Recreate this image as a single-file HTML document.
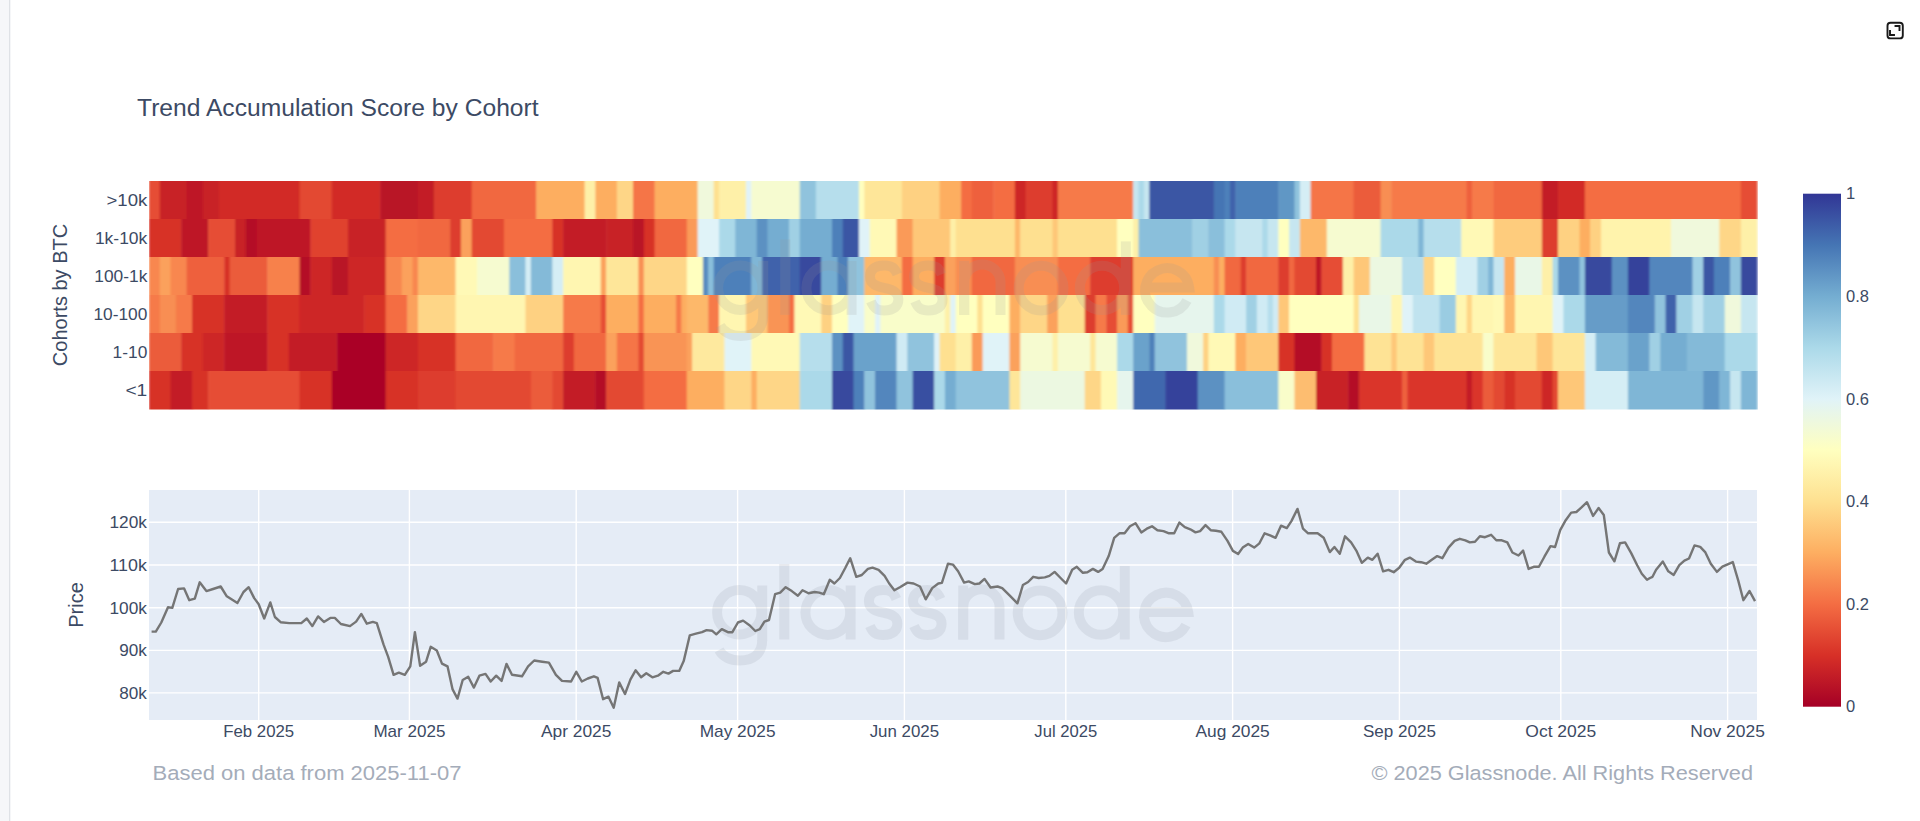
<!DOCTYPE html>
<html><head><meta charset="utf-8"><style>
html,body{margin:0;padding:0;width:1920px;height:821px;overflow:hidden;background:#fff;}
svg{position:absolute;left:0;top:0;display:block}
</style></head><body>
<svg width="1920" height="821" viewBox="0 0 1920 821" font-family="'Liberation Sans', sans-serif">
<defs>
<linearGradient id="cb" x1="0" y1="0" x2="0" y2="1">
<stop offset="0.00" stop-color="#313695"/>
<stop offset="0.10" stop-color="#4575b4"/>
<stop offset="0.20" stop-color="#74add1"/>
<stop offset="0.30" stop-color="#abd9e9"/>
<stop offset="0.40" stop-color="#e0f3f8"/>
<stop offset="0.50" stop-color="#ffffbf"/>
<stop offset="0.60" stop-color="#fee090"/>
<stop offset="0.70" stop-color="#fdae61"/>
<stop offset="0.80" stop-color="#f46d43"/>
<stop offset="0.90" stop-color="#d73027"/>
<stop offset="1.00" stop-color="#a50026"/>
</linearGradient>
<filter id="hb" x="0" y="0" width="1" height="1" filterUnits="objectBoundingBox"><feGaussianBlur stdDeviation="1.1 0.5" edgeMode="duplicate"/></filter>
</defs>
<rect x="0" y="0" width="9" height="821" fill="#f6f7f9"/>
<rect x="9" y="0" width="1.3" height="821" fill="#dfe2e6"/>
<g fill="none" stroke="#1a1a1a" stroke-width="1.9" stroke-linecap="square">
<rect x="1887.5" y="22.8" width="15.3" height="15.6" rx="3"/>
<path d="M1895.5,26 H1899.5 V30 M1890,31 V35 H1894"/>
</g>
<g filter="url(#hb)">
<rect x="149.00" y="181.0" width="11.26" height="38.5" fill="#e64e35"/>
<rect x="159.76" y="181.0" width="27.39" height="38.5" fill="#c82227"/>
<rect x="186.65" y="181.0" width="16.63" height="38.5" fill="#be1826"/>
<rect x="202.78" y="181.0" width="16.63" height="38.5" fill="#c82227"/>
<rect x="218.91" y="181.0" width="81.17" height="38.5" fill="#d22b27"/>
<rect x="299.58" y="181.0" width="32.77" height="38.5" fill="#e34832"/>
<rect x="331.85" y="181.0" width="48.90" height="38.5" fill="#d22b27"/>
<rect x="380.25" y="181.0" width="38.15" height="38.5" fill="#b91326"/>
<rect x="417.90" y="181.0" width="16.63" height="38.5" fill="#c31d27"/>
<rect x="434.03" y="181.0" width="38.15" height="38.5" fill="#dd3c2d"/>
<rect x="471.68" y="181.0" width="65.04" height="38.5" fill="#f16740"/>
<rect x="536.21" y="181.0" width="48.90" height="38.5" fill="#fdae61"/>
<rect x="584.61" y="181.0" width="11.26" height="38.5" fill="#fef0a8"/>
<rect x="595.37" y="181.0" width="22.01" height="38.5" fill="#fdae61"/>
<rect x="616.88" y="181.0" width="16.63" height="38.5" fill="#fed687"/>
<rect x="633.01" y="181.0" width="22.01" height="38.5" fill="#f57446"/>
<rect x="654.53" y="181.0" width="43.52" height="38.5" fill="#fdae61"/>
<rect x="697.55" y="181.0" width="16.63" height="38.5" fill="#f0f9dc"/>
<rect x="713.68" y="181.0" width="5.88" height="38.5" fill="#fee090"/>
<rect x="719.06" y="181.0" width="27.39" height="38.5" fill="#fef0a8"/>
<rect x="745.95" y="181.0" width="5.88" height="38.5" fill="#e0f3f8"/>
<rect x="751.33" y="181.0" width="48.90" height="38.5" fill="#f6fbd0"/>
<rect x="799.73" y="181.0" width="16.63" height="38.5" fill="#90c3dd"/>
<rect x="815.86" y="181.0" width="43.52" height="38.5" fill="#b6deec"/>
<rect x="858.89" y="181.0" width="5.88" height="38.5" fill="#ffffbf"/>
<rect x="864.26" y="181.0" width="38.15" height="38.5" fill="#fee699"/>
<rect x="901.91" y="181.0" width="38.15" height="38.5" fill="#fed182"/>
<rect x="939.56" y="181.0" width="22.01" height="38.5" fill="#fdae61"/>
<rect x="961.07" y="181.0" width="11.26" height="38.5" fill="#f46d43"/>
<rect x="971.82" y="181.0" width="22.01" height="38.5" fill="#ee613d"/>
<rect x="993.33" y="181.0" width="22.01" height="38.5" fill="#f46d43"/>
<rect x="1014.85" y="181.0" width="11.26" height="38.5" fill="#cd2627"/>
<rect x="1025.60" y="181.0" width="27.39" height="38.5" fill="#dd3c2d"/>
<rect x="1052.49" y="181.0" width="5.88" height="38.5" fill="#cd2627"/>
<rect x="1057.87" y="181.0" width="75.79" height="38.5" fill="#f67a49"/>
<rect x="1133.16" y="181.0" width="5.88" height="38.5" fill="#c6e6f0"/>
<rect x="1138.54" y="181.0" width="5.88" height="38.5" fill="#abd9e9"/>
<rect x="1143.92" y="181.0" width="5.88" height="38.5" fill="#c6e6f0"/>
<rect x="1149.29" y="181.0" width="65.04" height="38.5" fill="#3b56a4"/>
<rect x="1213.83" y="181.0" width="11.26" height="38.5" fill="#4575b4"/>
<rect x="1224.59" y="181.0" width="5.88" height="38.5" fill="#4e80ba"/>
<rect x="1229.96" y="181.0" width="5.88" height="38.5" fill="#3f62ab"/>
<rect x="1235.34" y="181.0" width="43.52" height="38.5" fill="#4e80ba"/>
<rect x="1278.36" y="181.0" width="16.63" height="38.5" fill="#6197c5"/>
<rect x="1294.50" y="181.0" width="5.88" height="38.5" fill="#90c3dd"/>
<rect x="1299.88" y="181.0" width="11.26" height="38.5" fill="#d5eef5"/>
<rect x="1310.63" y="181.0" width="43.52" height="38.5" fill="#f57446"/>
<rect x="1353.66" y="181.0" width="27.39" height="38.5" fill="#eb5b3b"/>
<rect x="1380.55" y="181.0" width="11.26" height="38.5" fill="#f88e52"/>
<rect x="1391.30" y="181.0" width="75.79" height="38.5" fill="#f67a49"/>
<rect x="1466.59" y="181.0" width="5.88" height="38.5" fill="#ee613d"/>
<rect x="1471.97" y="181.0" width="22.01" height="38.5" fill="#f67a49"/>
<rect x="1493.48" y="181.0" width="48.90" height="38.5" fill="#f16740"/>
<rect x="1541.88" y="181.0" width="16.63" height="38.5" fill="#c31d27"/>
<rect x="1558.02" y="181.0" width="27.39" height="38.5" fill="#d22b27"/>
<rect x="1584.91" y="181.0" width="156.46" height="38.5" fill="#f46d43"/>
<rect x="1740.87" y="181.0" width="16.63" height="38.5" fill="#e64e35"/>
<rect x="149.00" y="219.0" width="32.77" height="38.5" fill="#d73027"/>
<rect x="181.27" y="219.0" width="27.39" height="38.5" fill="#be1826"/>
<rect x="208.16" y="219.0" width="27.39" height="38.5" fill="#e64e35"/>
<rect x="235.05" y="219.0" width="11.26" height="38.5" fill="#c82227"/>
<rect x="245.80" y="219.0" width="11.26" height="38.5" fill="#b40e26"/>
<rect x="256.56" y="219.0" width="54.28" height="38.5" fill="#be1826"/>
<rect x="310.34" y="219.0" width="38.15" height="38.5" fill="#e0422f"/>
<rect x="347.98" y="219.0" width="38.15" height="38.5" fill="#c82227"/>
<rect x="385.63" y="219.0" width="32.77" height="38.5" fill="#f46d43"/>
<rect x="417.90" y="219.0" width="32.77" height="38.5" fill="#f16740"/>
<rect x="450.16" y="219.0" width="11.26" height="38.5" fill="#dd3c2d"/>
<rect x="460.92" y="219.0" width="11.26" height="38.5" fill="#fba15b"/>
<rect x="471.68" y="219.0" width="32.77" height="38.5" fill="#e34832"/>
<rect x="503.94" y="219.0" width="48.90" height="38.5" fill="#f46d43"/>
<rect x="552.34" y="219.0" width="11.26" height="38.5" fill="#d73027"/>
<rect x="563.10" y="219.0" width="43.52" height="38.5" fill="#c31d27"/>
<rect x="606.12" y="219.0" width="27.39" height="38.5" fill="#c82227"/>
<rect x="633.01" y="219.0" width="11.26" height="38.5" fill="#b91326"/>
<rect x="643.77" y="219.0" width="11.26" height="38.5" fill="#d73027"/>
<rect x="654.53" y="219.0" width="32.77" height="38.5" fill="#f16740"/>
<rect x="686.79" y="219.0" width="11.26" height="38.5" fill="#fa9a58"/>
<rect x="697.55" y="219.0" width="22.01" height="38.5" fill="#e0f3f8"/>
<rect x="719.06" y="219.0" width="16.63" height="38.5" fill="#abd9e9"/>
<rect x="735.19" y="219.0" width="22.01" height="38.5" fill="#7fb6d6"/>
<rect x="756.71" y="219.0" width="11.26" height="38.5" fill="#5c91c2"/>
<rect x="767.46" y="219.0" width="22.01" height="38.5" fill="#74add1"/>
<rect x="788.97" y="219.0" width="11.26" height="38.5" fill="#a0d0e4"/>
<rect x="799.73" y="219.0" width="32.77" height="38.5" fill="#74add1"/>
<rect x="832.00" y="219.0" width="11.26" height="38.5" fill="#4e80ba"/>
<rect x="842.75" y="219.0" width="16.63" height="38.5" fill="#3b56a4"/>
<rect x="858.89" y="219.0" width="11.26" height="38.5" fill="#e0f3f8"/>
<rect x="869.64" y="219.0" width="27.39" height="38.5" fill="#fff9b6"/>
<rect x="896.53" y="219.0" width="16.63" height="38.5" fill="#fa9a58"/>
<rect x="912.67" y="219.0" width="38.15" height="38.5" fill="#fec778"/>
<rect x="950.31" y="219.0" width="5.88" height="38.5" fill="#fef0a8"/>
<rect x="955.69" y="219.0" width="59.66" height="38.5" fill="#fee090"/>
<rect x="1014.85" y="219.0" width="5.88" height="38.5" fill="#fdb86a"/>
<rect x="1020.22" y="219.0" width="32.77" height="38.5" fill="#fee090"/>
<rect x="1052.49" y="219.0" width="5.88" height="38.5" fill="#fec778"/>
<rect x="1057.87" y="219.0" width="59.66" height="38.5" fill="#fee090"/>
<rect x="1117.03" y="219.0" width="16.63" height="38.5" fill="#ffffbf"/>
<rect x="1133.16" y="219.0" width="5.88" height="38.5" fill="#fef0a8"/>
<rect x="1138.54" y="219.0" width="54.28" height="38.5" fill="#8abfdb"/>
<rect x="1192.32" y="219.0" width="16.63" height="38.5" fill="#a0d0e4"/>
<rect x="1208.45" y="219.0" width="16.63" height="38.5" fill="#8abfdb"/>
<rect x="1224.59" y="219.0" width="11.26" height="38.5" fill="#abd9e9"/>
<rect x="1235.34" y="219.0" width="27.39" height="38.5" fill="#c6e6f0"/>
<rect x="1262.23" y="219.0" width="5.88" height="38.5" fill="#abd9e9"/>
<rect x="1267.61" y="219.0" width="11.26" height="38.5" fill="#c6e6f0"/>
<rect x="1278.36" y="219.0" width="11.26" height="38.5" fill="#ffffbf"/>
<rect x="1289.12" y="219.0" width="11.26" height="38.5" fill="#c6e6f0"/>
<rect x="1299.88" y="219.0" width="27.39" height="38.5" fill="#fdb86a"/>
<rect x="1326.77" y="219.0" width="54.28" height="38.5" fill="#f6fbd0"/>
<rect x="1380.55" y="219.0" width="38.15" height="38.5" fill="#abd9e9"/>
<rect x="1418.19" y="219.0" width="5.88" height="38.5" fill="#7fb6d6"/>
<rect x="1423.57" y="219.0" width="38.15" height="38.5" fill="#b6deec"/>
<rect x="1461.21" y="219.0" width="32.77" height="38.5" fill="#fff9b6"/>
<rect x="1493.48" y="219.0" width="48.90" height="38.5" fill="#fecc7d"/>
<rect x="1541.88" y="219.0" width="16.63" height="38.5" fill="#dd3c2d"/>
<rect x="1558.02" y="219.0" width="22.01" height="38.5" fill="#fed182"/>
<rect x="1579.53" y="219.0" width="11.26" height="38.5" fill="#fdae61"/>
<rect x="1590.28" y="219.0" width="11.26" height="38.5" fill="#fed182"/>
<rect x="1601.04" y="219.0" width="70.41" height="38.5" fill="#fff3ac"/>
<rect x="1670.95" y="219.0" width="48.90" height="38.5" fill="#f0f9dc"/>
<rect x="1719.35" y="219.0" width="22.01" height="38.5" fill="#fed687"/>
<rect x="1740.87" y="219.0" width="16.63" height="38.5" fill="#fef0a8"/>
<rect x="149.00" y="257.0" width="11.26" height="38.5" fill="#f8874f"/>
<rect x="159.76" y="257.0" width="11.26" height="38.5" fill="#fba15b"/>
<rect x="170.51" y="257.0" width="16.63" height="38.5" fill="#f8874f"/>
<rect x="186.65" y="257.0" width="38.15" height="38.5" fill="#ee613d"/>
<rect x="224.29" y="257.0" width="5.88" height="38.5" fill="#d73027"/>
<rect x="229.67" y="257.0" width="38.15" height="38.5" fill="#eb5b3b"/>
<rect x="267.31" y="257.0" width="32.77" height="38.5" fill="#f7814c"/>
<rect x="299.58" y="257.0" width="11.26" height="38.5" fill="#b40e26"/>
<rect x="310.34" y="257.0" width="22.01" height="38.5" fill="#cd2627"/>
<rect x="331.85" y="257.0" width="16.63" height="38.5" fill="#b91326"/>
<rect x="347.98" y="257.0" width="38.15" height="38.5" fill="#cd2627"/>
<rect x="385.63" y="257.0" width="16.63" height="38.5" fill="#f8874f"/>
<rect x="401.76" y="257.0" width="11.26" height="38.5" fill="#fba15b"/>
<rect x="412.52" y="257.0" width="5.88" height="38.5" fill="#f8874f"/>
<rect x="417.90" y="257.0" width="38.15" height="38.5" fill="#fdb86a"/>
<rect x="455.54" y="257.0" width="22.01" height="38.5" fill="#fff9b6"/>
<rect x="477.05" y="257.0" width="32.77" height="38.5" fill="#f6fbd0"/>
<rect x="509.32" y="257.0" width="16.63" height="38.5" fill="#8abfdb"/>
<rect x="525.45" y="257.0" width="5.88" height="38.5" fill="#d5eef5"/>
<rect x="530.83" y="257.0" width="22.01" height="38.5" fill="#84bad8"/>
<rect x="552.34" y="257.0" width="11.26" height="38.5" fill="#d5eef5"/>
<rect x="563.10" y="257.0" width="38.15" height="38.5" fill="#fff6b1"/>
<rect x="600.75" y="257.0" width="5.88" height="38.5" fill="#fba15b"/>
<rect x="606.12" y="257.0" width="32.77" height="38.5" fill="#fee699"/>
<rect x="638.39" y="257.0" width="5.88" height="38.5" fill="#f88e52"/>
<rect x="643.77" y="257.0" width="43.52" height="38.5" fill="#fed687"/>
<rect x="686.79" y="257.0" width="16.63" height="38.5" fill="#ffffbf"/>
<rect x="702.93" y="257.0" width="5.88" height="38.5" fill="#588bc0"/>
<rect x="708.30" y="257.0" width="5.88" height="38.5" fill="#8abfdb"/>
<rect x="713.68" y="257.0" width="38.15" height="38.5" fill="#4e80ba"/>
<rect x="751.33" y="257.0" width="11.26" height="38.5" fill="#7fb6d6"/>
<rect x="762.08" y="257.0" width="38.15" height="38.5" fill="#3f62ab"/>
<rect x="799.73" y="257.0" width="22.01" height="38.5" fill="#37499e"/>
<rect x="821.24" y="257.0" width="16.63" height="38.5" fill="#74add1"/>
<rect x="837.37" y="257.0" width="11.26" height="38.5" fill="#4e80ba"/>
<rect x="848.13" y="257.0" width="16.63" height="38.5" fill="#90c3dd"/>
<rect x="864.26" y="257.0" width="38.15" height="38.5" fill="#fdb86a"/>
<rect x="901.91" y="257.0" width="11.26" height="38.5" fill="#f46d43"/>
<rect x="912.67" y="257.0" width="22.01" height="38.5" fill="#fdae61"/>
<rect x="934.18" y="257.0" width="11.26" height="38.5" fill="#dd3c2d"/>
<rect x="944.93" y="257.0" width="11.26" height="38.5" fill="#fba15b"/>
<rect x="955.69" y="257.0" width="16.63" height="38.5" fill="#f88e52"/>
<rect x="971.82" y="257.0" width="43.52" height="38.5" fill="#f16740"/>
<rect x="1014.85" y="257.0" width="43.52" height="38.5" fill="#f88e52"/>
<rect x="1057.87" y="257.0" width="32.77" height="38.5" fill="#f46d43"/>
<rect x="1090.14" y="257.0" width="43.52" height="38.5" fill="#dd3c2d"/>
<rect x="1133.16" y="257.0" width="81.17" height="38.5" fill="#fdae61"/>
<rect x="1213.83" y="257.0" width="5.88" height="38.5" fill="#f88e52"/>
<rect x="1219.21" y="257.0" width="5.88" height="38.5" fill="#fdae61"/>
<rect x="1224.59" y="257.0" width="16.63" height="38.5" fill="#f16740"/>
<rect x="1240.72" y="257.0" width="5.88" height="38.5" fill="#dd3c2d"/>
<rect x="1246.10" y="257.0" width="32.77" height="38.5" fill="#f16740"/>
<rect x="1278.36" y="257.0" width="11.26" height="38.5" fill="#dd3c2d"/>
<rect x="1289.12" y="257.0" width="5.88" height="38.5" fill="#f16740"/>
<rect x="1294.50" y="257.0" width="22.01" height="38.5" fill="#e34832"/>
<rect x="1316.01" y="257.0" width="5.88" height="38.5" fill="#be1826"/>
<rect x="1321.39" y="257.0" width="22.01" height="38.5" fill="#e64e35"/>
<rect x="1342.90" y="257.0" width="11.26" height="38.5" fill="#fef0a8"/>
<rect x="1353.66" y="257.0" width="16.63" height="38.5" fill="#fec778"/>
<rect x="1369.79" y="257.0" width="32.77" height="38.5" fill="#ecf8e1"/>
<rect x="1402.06" y="257.0" width="22.01" height="38.5" fill="#b6deec"/>
<rect x="1423.57" y="257.0" width="11.26" height="38.5" fill="#fed687"/>
<rect x="1434.32" y="257.0" width="22.01" height="38.5" fill="#ffffbf"/>
<rect x="1455.84" y="257.0" width="22.01" height="38.5" fill="#d5eef5"/>
<rect x="1477.35" y="257.0" width="11.26" height="38.5" fill="#a0d0e4"/>
<rect x="1488.10" y="257.0" width="5.88" height="38.5" fill="#7fb6d6"/>
<rect x="1493.48" y="257.0" width="11.26" height="38.5" fill="#c6e6f0"/>
<rect x="1504.24" y="257.0" width="11.26" height="38.5" fill="#fdae61"/>
<rect x="1514.99" y="257.0" width="27.39" height="38.5" fill="#e9f7e7"/>
<rect x="1541.88" y="257.0" width="11.26" height="38.5" fill="#fef0a8"/>
<rect x="1552.64" y="257.0" width="5.88" height="38.5" fill="#abd9e9"/>
<rect x="1558.02" y="257.0" width="22.01" height="38.5" fill="#5c91c2"/>
<rect x="1579.53" y="257.0" width="5.88" height="38.5" fill="#90c3dd"/>
<rect x="1584.91" y="257.0" width="27.39" height="38.5" fill="#37499e"/>
<rect x="1611.80" y="257.0" width="16.63" height="38.5" fill="#5c91c2"/>
<rect x="1627.93" y="257.0" width="22.01" height="38.5" fill="#35439b"/>
<rect x="1649.44" y="257.0" width="43.52" height="38.5" fill="#5386bd"/>
<rect x="1692.46" y="257.0" width="11.26" height="38.5" fill="#a0d0e4"/>
<rect x="1703.22" y="257.0" width="11.26" height="38.5" fill="#3b56a4"/>
<rect x="1713.98" y="257.0" width="16.63" height="38.5" fill="#4e80ba"/>
<rect x="1730.11" y="257.0" width="11.26" height="38.5" fill="#90c3dd"/>
<rect x="1740.87" y="257.0" width="16.63" height="38.5" fill="#37499e"/>
<rect x="149.00" y="295.0" width="11.26" height="38.5" fill="#f67a49"/>
<rect x="159.76" y="295.0" width="16.63" height="38.5" fill="#f88e52"/>
<rect x="175.89" y="295.0" width="16.63" height="38.5" fill="#f67a49"/>
<rect x="192.02" y="295.0" width="32.77" height="38.5" fill="#d73027"/>
<rect x="224.29" y="295.0" width="43.52" height="38.5" fill="#c31d27"/>
<rect x="267.31" y="295.0" width="32.77" height="38.5" fill="#d73027"/>
<rect x="299.58" y="295.0" width="65.04" height="38.5" fill="#cd2627"/>
<rect x="364.12" y="295.0" width="22.01" height="38.5" fill="#d73027"/>
<rect x="385.63" y="295.0" width="22.01" height="38.5" fill="#f46d43"/>
<rect x="407.14" y="295.0" width="11.26" height="38.5" fill="#fba15b"/>
<rect x="417.90" y="295.0" width="38.15" height="38.5" fill="#fed687"/>
<rect x="455.54" y="295.0" width="70.41" height="38.5" fill="#fff6b1"/>
<rect x="525.45" y="295.0" width="38.15" height="38.5" fill="#fed182"/>
<rect x="563.10" y="295.0" width="38.15" height="38.5" fill="#f67a49"/>
<rect x="600.75" y="295.0" width="5.88" height="38.5" fill="#e64e35"/>
<rect x="606.12" y="295.0" width="32.77" height="38.5" fill="#fdae61"/>
<rect x="638.39" y="295.0" width="5.88" height="38.5" fill="#f46d43"/>
<rect x="643.77" y="295.0" width="32.77" height="38.5" fill="#fdae61"/>
<rect x="676.04" y="295.0" width="5.88" height="38.5" fill="#f67a49"/>
<rect x="681.41" y="295.0" width="5.88" height="38.5" fill="#fdae61"/>
<rect x="686.79" y="295.0" width="22.01" height="38.5" fill="#fdb86a"/>
<rect x="708.30" y="295.0" width="11.26" height="38.5" fill="#f67a49"/>
<rect x="719.06" y="295.0" width="27.39" height="38.5" fill="#fff6b1"/>
<rect x="745.95" y="295.0" width="22.01" height="38.5" fill="#fec778"/>
<rect x="767.46" y="295.0" width="22.01" height="38.5" fill="#f99455"/>
<rect x="788.97" y="295.0" width="5.88" height="38.5" fill="#f46d43"/>
<rect x="794.35" y="295.0" width="27.39" height="38.5" fill="#fff9b6"/>
<rect x="821.24" y="295.0" width="11.26" height="38.5" fill="#fed182"/>
<rect x="832.00" y="295.0" width="16.63" height="38.5" fill="#ffffbf"/>
<rect x="848.13" y="295.0" width="16.63" height="38.5" fill="#e0f3f8"/>
<rect x="864.26" y="295.0" width="11.26" height="38.5" fill="#f9fdca"/>
<rect x="875.02" y="295.0" width="5.88" height="38.5" fill="#e0f3f8"/>
<rect x="880.40" y="295.0" width="65.04" height="38.5" fill="#f9fdca"/>
<rect x="944.93" y="295.0" width="5.88" height="38.5" fill="#fef0a8"/>
<rect x="950.31" y="295.0" width="5.88" height="38.5" fill="#e0f3f8"/>
<rect x="955.69" y="295.0" width="22.01" height="38.5" fill="#ffffbf"/>
<rect x="977.20" y="295.0" width="5.88" height="38.5" fill="#fee090"/>
<rect x="982.58" y="295.0" width="27.39" height="38.5" fill="#ffffbf"/>
<rect x="1009.47" y="295.0" width="11.26" height="38.5" fill="#fdae61"/>
<rect x="1020.22" y="295.0" width="27.39" height="38.5" fill="#fed687"/>
<rect x="1047.11" y="295.0" width="11.26" height="38.5" fill="#fba15b"/>
<rect x="1057.87" y="295.0" width="27.39" height="38.5" fill="#fee090"/>
<rect x="1084.76" y="295.0" width="11.26" height="38.5" fill="#dd3c2d"/>
<rect x="1095.52" y="295.0" width="11.26" height="38.5" fill="#f67a49"/>
<rect x="1106.27" y="295.0" width="11.26" height="38.5" fill="#e64e35"/>
<rect x="1117.03" y="295.0" width="11.26" height="38.5" fill="#fa9a58"/>
<rect x="1127.78" y="295.0" width="5.88" height="38.5" fill="#e64e35"/>
<rect x="1133.16" y="295.0" width="22.01" height="38.5" fill="#ffffbf"/>
<rect x="1154.67" y="295.0" width="59.66" height="38.5" fill="#e6f5ed"/>
<rect x="1213.83" y="295.0" width="11.26" height="38.5" fill="#abd9e9"/>
<rect x="1224.59" y="295.0" width="22.01" height="38.5" fill="#d0ebf4"/>
<rect x="1246.10" y="295.0" width="11.26" height="38.5" fill="#a0d0e4"/>
<rect x="1256.85" y="295.0" width="11.26" height="38.5" fill="#d0ebf4"/>
<rect x="1267.61" y="295.0" width="5.88" height="38.5" fill="#b6deec"/>
<rect x="1272.99" y="295.0" width="5.88" height="38.5" fill="#d0ebf4"/>
<rect x="1278.36" y="295.0" width="11.26" height="38.5" fill="#fec778"/>
<rect x="1289.12" y="295.0" width="65.04" height="38.5" fill="#ffffbf"/>
<rect x="1353.66" y="295.0" width="5.88" height="38.5" fill="#fee090"/>
<rect x="1359.03" y="295.0" width="32.77" height="38.5" fill="#e9f7e7"/>
<rect x="1391.30" y="295.0" width="11.26" height="38.5" fill="#fff6b1"/>
<rect x="1402.06" y="295.0" width="11.26" height="38.5" fill="#e0f3f8"/>
<rect x="1412.81" y="295.0" width="27.39" height="38.5" fill="#c0e3ef"/>
<rect x="1439.70" y="295.0" width="16.63" height="38.5" fill="#9acce2"/>
<rect x="1455.84" y="295.0" width="11.26" height="38.5" fill="#fff6b1"/>
<rect x="1466.59" y="295.0" width="5.88" height="38.5" fill="#fed687"/>
<rect x="1471.97" y="295.0" width="22.01" height="38.5" fill="#fff6b1"/>
<rect x="1493.48" y="295.0" width="11.26" height="38.5" fill="#fff9b6"/>
<rect x="1504.24" y="295.0" width="11.26" height="38.5" fill="#fdb86a"/>
<rect x="1514.99" y="295.0" width="38.15" height="38.5" fill="#fff6b1"/>
<rect x="1552.64" y="295.0" width="11.26" height="38.5" fill="#e0f3f8"/>
<rect x="1563.39" y="295.0" width="22.01" height="38.5" fill="#abd9e9"/>
<rect x="1584.91" y="295.0" width="43.52" height="38.5" fill="#669cc8"/>
<rect x="1627.93" y="295.0" width="27.39" height="38.5" fill="#5386bd"/>
<rect x="1654.82" y="295.0" width="11.26" height="38.5" fill="#90c3dd"/>
<rect x="1665.58" y="295.0" width="11.26" height="38.5" fill="#3f62ab"/>
<rect x="1676.33" y="295.0" width="16.63" height="38.5" fill="#a0d0e4"/>
<rect x="1692.46" y="295.0" width="11.26" height="38.5" fill="#c6e6f0"/>
<rect x="1703.22" y="295.0" width="22.01" height="38.5" fill="#a0d0e4"/>
<rect x="1724.73" y="295.0" width="16.63" height="38.5" fill="#f0f9dc"/>
<rect x="1740.87" y="295.0" width="16.63" height="38.5" fill="#c6e6f0"/>
<rect x="149.00" y="333.0" width="32.77" height="38.5" fill="#eb5b3b"/>
<rect x="181.27" y="333.0" width="22.01" height="38.5" fill="#d73027"/>
<rect x="202.78" y="333.0" width="22.01" height="38.5" fill="#cd2627"/>
<rect x="224.29" y="333.0" width="43.52" height="38.5" fill="#be1826"/>
<rect x="267.31" y="333.0" width="22.01" height="38.5" fill="#d73027"/>
<rect x="288.83" y="333.0" width="48.90" height="38.5" fill="#c31d27"/>
<rect x="337.23" y="333.0" width="48.90" height="38.5" fill="#aa0526"/>
<rect x="385.63" y="333.0" width="32.77" height="38.5" fill="#cd2627"/>
<rect x="417.90" y="333.0" width="38.15" height="38.5" fill="#d73027"/>
<rect x="455.54" y="333.0" width="38.15" height="38.5" fill="#f16740"/>
<rect x="493.19" y="333.0" width="22.01" height="38.5" fill="#f67a49"/>
<rect x="514.70" y="333.0" width="48.90" height="38.5" fill="#f16740"/>
<rect x="563.10" y="333.0" width="11.26" height="38.5" fill="#dd3c2d"/>
<rect x="573.86" y="333.0" width="32.77" height="38.5" fill="#f16740"/>
<rect x="606.12" y="333.0" width="11.26" height="38.5" fill="#fba15b"/>
<rect x="616.88" y="333.0" width="22.01" height="38.5" fill="#f57446"/>
<rect x="638.39" y="333.0" width="5.88" height="38.5" fill="#e34832"/>
<rect x="643.77" y="333.0" width="43.52" height="38.5" fill="#f99455"/>
<rect x="686.79" y="333.0" width="5.88" height="38.5" fill="#fba15b"/>
<rect x="692.17" y="333.0" width="32.77" height="38.5" fill="#fee99e"/>
<rect x="724.44" y="333.0" width="27.39" height="38.5" fill="#e0f3f8"/>
<rect x="751.33" y="333.0" width="48.90" height="38.5" fill="#fff9b6"/>
<rect x="799.73" y="333.0" width="32.77" height="38.5" fill="#b6deec"/>
<rect x="832.00" y="333.0" width="11.26" height="38.5" fill="#5c91c2"/>
<rect x="842.75" y="333.0" width="11.26" height="38.5" fill="#3b56a4"/>
<rect x="853.51" y="333.0" width="43.52" height="38.5" fill="#6ba2cb"/>
<rect x="896.53" y="333.0" width="11.26" height="38.5" fill="#d0ebf4"/>
<rect x="907.29" y="333.0" width="27.39" height="38.5" fill="#90c3dd"/>
<rect x="934.18" y="333.0" width="5.88" height="38.5" fill="#e0f3f8"/>
<rect x="939.56" y="333.0" width="16.63" height="38.5" fill="#fee090"/>
<rect x="955.69" y="333.0" width="16.63" height="38.5" fill="#fef0a8"/>
<rect x="971.82" y="333.0" width="11.26" height="38.5" fill="#fa9a58"/>
<rect x="982.58" y="333.0" width="27.39" height="38.5" fill="#e0f3f8"/>
<rect x="1009.47" y="333.0" width="11.26" height="38.5" fill="#fba15b"/>
<rect x="1020.22" y="333.0" width="32.77" height="38.5" fill="#f6fbd0"/>
<rect x="1052.49" y="333.0" width="5.88" height="38.5" fill="#fef0a8"/>
<rect x="1057.87" y="333.0" width="32.77" height="38.5" fill="#f6fbd0"/>
<rect x="1090.14" y="333.0" width="5.88" height="38.5" fill="#fee699"/>
<rect x="1095.52" y="333.0" width="22.01" height="38.5" fill="#f6fbd0"/>
<rect x="1117.03" y="333.0" width="16.63" height="38.5" fill="#abd9e9"/>
<rect x="1133.16" y="333.0" width="16.63" height="38.5" fill="#6ba2cb"/>
<rect x="1149.29" y="333.0" width="5.88" height="38.5" fill="#4e80ba"/>
<rect x="1154.67" y="333.0" width="32.77" height="38.5" fill="#90c3dd"/>
<rect x="1186.94" y="333.0" width="16.63" height="38.5" fill="#f0f9dc"/>
<rect x="1203.07" y="333.0" width="5.88" height="38.5" fill="#fed182"/>
<rect x="1208.45" y="333.0" width="27.39" height="38.5" fill="#fff9b6"/>
<rect x="1235.34" y="333.0" width="11.26" height="38.5" fill="#fdae61"/>
<rect x="1246.10" y="333.0" width="32.77" height="38.5" fill="#fec778"/>
<rect x="1278.36" y="333.0" width="16.63" height="38.5" fill="#d73027"/>
<rect x="1294.50" y="333.0" width="27.39" height="38.5" fill="#b40e26"/>
<rect x="1321.39" y="333.0" width="11.26" height="38.5" fill="#d73027"/>
<rect x="1332.14" y="333.0" width="32.77" height="38.5" fill="#f46d43"/>
<rect x="1364.41" y="333.0" width="27.39" height="38.5" fill="#fee395"/>
<rect x="1391.30" y="333.0" width="5.88" height="38.5" fill="#fec778"/>
<rect x="1396.68" y="333.0" width="27.39" height="38.5" fill="#fee395"/>
<rect x="1423.57" y="333.0" width="11.26" height="38.5" fill="#fec778"/>
<rect x="1434.32" y="333.0" width="48.90" height="38.5" fill="#fee395"/>
<rect x="1482.73" y="333.0" width="11.26" height="38.5" fill="#f9fdca"/>
<rect x="1493.48" y="333.0" width="43.52" height="38.5" fill="#fee699"/>
<rect x="1536.51" y="333.0" width="16.63" height="38.5" fill="#fec778"/>
<rect x="1552.64" y="333.0" width="32.77" height="38.5" fill="#fee699"/>
<rect x="1584.91" y="333.0" width="11.26" height="38.5" fill="#d5eef5"/>
<rect x="1595.66" y="333.0" width="32.77" height="38.5" fill="#84bad8"/>
<rect x="1627.93" y="333.0" width="22.01" height="38.5" fill="#6ba2cb"/>
<rect x="1649.44" y="333.0" width="11.26" height="38.5" fill="#a0d0e4"/>
<rect x="1660.20" y="333.0" width="27.39" height="38.5" fill="#74add1"/>
<rect x="1687.09" y="333.0" width="38.15" height="38.5" fill="#84bad8"/>
<rect x="1724.73" y="333.0" width="32.77" height="38.5" fill="#abd9e9"/>
<rect x="149.00" y="371.0" width="22.01" height="38.5" fill="#d73027"/>
<rect x="170.51" y="371.0" width="22.01" height="38.5" fill="#c31d27"/>
<rect x="192.02" y="371.0" width="16.63" height="38.5" fill="#d73027"/>
<rect x="208.16" y="371.0" width="91.92" height="38.5" fill="#e64e35"/>
<rect x="299.58" y="371.0" width="32.77" height="38.5" fill="#d73027"/>
<rect x="331.85" y="371.0" width="54.28" height="38.5" fill="#aa0526"/>
<rect x="385.63" y="371.0" width="32.77" height="38.5" fill="#d73027"/>
<rect x="417.90" y="371.0" width="38.15" height="38.5" fill="#dd3c2d"/>
<rect x="455.54" y="371.0" width="75.79" height="38.5" fill="#e34832"/>
<rect x="530.83" y="371.0" width="22.01" height="38.5" fill="#eb5b3b"/>
<rect x="552.34" y="371.0" width="11.26" height="38.5" fill="#e34832"/>
<rect x="563.10" y="371.0" width="32.77" height="38.5" fill="#c31d27"/>
<rect x="595.37" y="371.0" width="11.26" height="38.5" fill="#b40e26"/>
<rect x="606.12" y="371.0" width="38.15" height="38.5" fill="#e34832"/>
<rect x="643.77" y="371.0" width="43.52" height="38.5" fill="#f46d43"/>
<rect x="686.79" y="371.0" width="38.15" height="38.5" fill="#fdae61"/>
<rect x="724.44" y="371.0" width="27.39" height="38.5" fill="#fed687"/>
<rect x="751.33" y="371.0" width="5.88" height="38.5" fill="#fdae61"/>
<rect x="756.71" y="371.0" width="43.52" height="38.5" fill="#fed687"/>
<rect x="799.73" y="371.0" width="32.77" height="38.5" fill="#abd9e9"/>
<rect x="832.00" y="371.0" width="22.01" height="38.5" fill="#37499e"/>
<rect x="853.51" y="371.0" width="11.26" height="38.5" fill="#4e80ba"/>
<rect x="864.26" y="371.0" width="11.26" height="38.5" fill="#90c3dd"/>
<rect x="875.02" y="371.0" width="22.01" height="38.5" fill="#5386bd"/>
<rect x="896.53" y="371.0" width="16.63" height="38.5" fill="#90c3dd"/>
<rect x="912.67" y="371.0" width="22.01" height="38.5" fill="#394fa1"/>
<rect x="934.18" y="371.0" width="11.26" height="38.5" fill="#abd9e9"/>
<rect x="944.93" y="371.0" width="11.26" height="38.5" fill="#74add1"/>
<rect x="955.69" y="371.0" width="54.28" height="38.5" fill="#90c3dd"/>
<rect x="1009.47" y="371.0" width="11.26" height="38.5" fill="#fee699"/>
<rect x="1020.22" y="371.0" width="65.04" height="38.5" fill="#ecf8e1"/>
<rect x="1084.76" y="371.0" width="16.63" height="38.5" fill="#fed687"/>
<rect x="1100.89" y="371.0" width="16.63" height="38.5" fill="#fff9b6"/>
<rect x="1117.03" y="371.0" width="16.63" height="38.5" fill="#e6f5ed"/>
<rect x="1133.16" y="371.0" width="32.77" height="38.5" fill="#4168ae"/>
<rect x="1165.43" y="371.0" width="32.77" height="38.5" fill="#35439b"/>
<rect x="1197.70" y="371.0" width="27.39" height="38.5" fill="#5c91c2"/>
<rect x="1224.59" y="371.0" width="54.28" height="38.5" fill="#8abfdb"/>
<rect x="1278.36" y="371.0" width="16.63" height="38.5" fill="#f9fdca"/>
<rect x="1294.50" y="371.0" width="22.01" height="38.5" fill="#fdbd6f"/>
<rect x="1316.01" y="371.0" width="32.77" height="38.5" fill="#c82227"/>
<rect x="1348.28" y="371.0" width="11.26" height="38.5" fill="#b40e26"/>
<rect x="1359.03" y="371.0" width="43.52" height="38.5" fill="#da362a"/>
<rect x="1402.06" y="371.0" width="5.88" height="38.5" fill="#ee613d"/>
<rect x="1407.43" y="371.0" width="59.66" height="38.5" fill="#da362a"/>
<rect x="1466.59" y="371.0" width="5.88" height="38.5" fill="#c31d27"/>
<rect x="1471.97" y="371.0" width="11.26" height="38.5" fill="#da362a"/>
<rect x="1482.73" y="371.0" width="11.26" height="38.5" fill="#eb5b3b"/>
<rect x="1493.48" y="371.0" width="11.26" height="38.5" fill="#e34832"/>
<rect x="1504.24" y="371.0" width="11.26" height="38.5" fill="#d73027"/>
<rect x="1514.99" y="371.0" width="27.39" height="38.5" fill="#e34832"/>
<rect x="1541.88" y="371.0" width="11.26" height="38.5" fill="#cd2627"/>
<rect x="1552.64" y="371.0" width="5.88" height="38.5" fill="#e34832"/>
<rect x="1558.02" y="371.0" width="27.39" height="38.5" fill="#fec778"/>
<rect x="1584.91" y="371.0" width="43.52" height="38.5" fill="#d5eef5"/>
<rect x="1627.93" y="371.0" width="75.79" height="38.5" fill="#7fb6d6"/>
<rect x="1703.22" y="371.0" width="16.63" height="38.5" fill="#6197c5"/>
<rect x="1719.35" y="371.0" width="11.26" height="38.5" fill="#7fb6d6"/>
<rect x="1730.11" y="371.0" width="11.26" height="38.5" fill="#c6e6f0"/>
<rect x="1740.87" y="371.0" width="16.63" height="38.5" fill="#7fb6d6"/>
</g>
<g opacity="0.17" fill="#999999" stroke="#999999">
<circle cx="740.3" cy="287.7" r="22.2" fill="none" stroke-width="10.0"/>
<rect x="758.2" y="260.9" width="10.0" height="55.5" stroke="none"/>
<path d="M762.2,640 C762.2,654 753,660.5 740,660.5 C731,660.5 723,657 719,650" fill="none" stroke-width="10.0" transform="translate(1.0,-324.6)"/>
<rect x="780.2" y="239.4" width="10.2" height="75.5" stroke="none"/>
<circle cx="828.8" cy="287.9" r="22.4" fill="none" stroke-width="10.0"/>
<rect x="846.6" y="260.9" width="10.0" height="54.0" stroke="none"/>
<path d="M896.4,599.0 C893.4,592.0 890.3,590.0 883.1,590.0 C873.2,590.0 868.9,594.5 868.9,601.2 C868.9,608.9 876.0,611.0 883.1,612.5 C890.3,614.0 897.4,616.1 897.4,623.8 C897.4,630.5 893.1,635.0 883.1,635.0 C876.0,635.0 872.9,633.0 869.9,626.0" fill="none" stroke-width="10.0" transform="translate(1.0,-324.6)"/>
<path d="M940.6,599.0 C937.6,592.0 934.4,590.0 927.3,590.0 C917.3,590.0 913.0,594.5 913.0,601.2 C913.0,608.9 920.1,611.0 927.3,612.5 C934.5,614.0 941.6,616.1 941.6,623.8 C941.6,630.5 937.3,635.0 927.3,635.0 C920.1,635.0 917.0,633.0 914.0,626.0" fill="none" stroke-width="10.0" transform="translate(1.0,-324.6)"/>
<rect x="959.2" y="260.9" width="10.0" height="54.0" stroke="none"/>
<path d="M963.2,639.5 V606 A18.2,18.2 0 0 1 999.5,606 V639.5" fill="none" stroke-width="10.0" transform="translate(1.0,-324.6)"/>
<circle cx="1041.1" cy="288.2" r="22.4" fill="none" stroke-width="10.0"/>
<circle cx="1102.0" cy="287.9" r="22.2" fill="none" stroke-width="10.0"/>
<rect x="1120.8" y="241.4" width="10.0" height="73.5" stroke="none"/>
<path d="M1145.0,287.4 H1189.2 A22.2,22.2 0 1 0 1187.0,300.4" fill="none" stroke-width="10.0"/>
</g>
<rect x="1803" y="193.7" width="38" height="513" fill="url(#cb)"/>
<rect x="149" y="490" width="1608" height="230" fill="#e5ecf6"/>
<g stroke="#ffffff" stroke-width="1.4">
<line x1="258.7" y1="490" x2="258.7" y2="720"/>
<line x1="409.4" y1="490" x2="409.4" y2="720"/>
<line x1="576.2" y1="490" x2="576.2" y2="720"/>
<line x1="737.6" y1="490" x2="737.6" y2="720"/>
<line x1="904.4" y1="490" x2="904.4" y2="720"/>
<line x1="1065.8" y1="490" x2="1065.8" y2="720"/>
<line x1="1232.6" y1="490" x2="1232.6" y2="720"/>
<line x1="1399.4" y1="490" x2="1399.4" y2="720"/>
<line x1="1560.8" y1="490" x2="1560.8" y2="720"/>
<line x1="1727.6" y1="490" x2="1727.6" y2="720"/>
<line x1="149" y1="522.3" x2="1757" y2="522.3"/>
<line x1="149" y1="565.0" x2="1757" y2="565.0"/>
<line x1="149" y1="607.7" x2="1757" y2="607.7"/>
<line x1="149" y1="650.4" x2="1757" y2="650.4"/>
<line x1="149" y1="692.9" x2="1757" y2="692.9"/>
</g>
<g opacity="0.16" fill="#8f96a3" stroke="#8f96a3">
<circle cx="739.3" cy="612.3" r="22.2" fill="none" stroke-width="10.0"/>
<rect x="757.2" y="585.5" width="10.0" height="55.5" stroke="none"/>
<path d="M762.2,640 C762.2,654 753,660.5 740,660.5 C731,660.5 723,657 719,650" fill="none" stroke-width="10.0" transform="translate(0.0,0.0)"/>
<rect x="779.2" y="564.0" width="10.2" height="75.5" stroke="none"/>
<circle cx="827.8" cy="612.5" r="22.4" fill="none" stroke-width="10.0"/>
<rect x="845.6" y="585.5" width="10.0" height="54.0" stroke="none"/>
<path d="M896.4,599.0 C893.4,592.0 890.3,590.0 883.1,590.0 C873.2,590.0 868.9,594.5 868.9,601.2 C868.9,608.9 876.0,611.0 883.1,612.5 C890.3,614.0 897.4,616.1 897.4,623.8 C897.4,630.5 893.1,635.0 883.1,635.0 C876.0,635.0 872.9,633.0 869.9,626.0" fill="none" stroke-width="10.0" transform="translate(0.0,0.0)"/>
<path d="M940.6,599.0 C937.6,592.0 934.4,590.0 927.3,590.0 C917.3,590.0 913.0,594.5 913.0,601.2 C913.0,608.9 920.1,611.0 927.3,612.5 C934.5,614.0 941.6,616.1 941.6,623.8 C941.6,630.5 937.3,635.0 927.3,635.0 C920.1,635.0 917.0,633.0 914.0,626.0" fill="none" stroke-width="10.0" transform="translate(0.0,0.0)"/>
<rect x="958.2" y="585.5" width="10.0" height="54.0" stroke="none"/>
<path d="M963.2,639.5 V606 A18.2,18.2 0 0 1 999.5,606 V639.5" fill="none" stroke-width="10.0" transform="translate(0.0,0.0)"/>
<circle cx="1040.1" cy="612.8" r="22.4" fill="none" stroke-width="10.0"/>
<circle cx="1101.0" cy="612.5" r="22.2" fill="none" stroke-width="10.0"/>
<rect x="1119.8" y="566.0" width="10.0" height="73.5" stroke="none"/>
<path d="M1144.0,612.0 H1188.2 A22.2,22.2 0 1 0 1186.0,625.0" fill="none" stroke-width="10.0"/>
</g>
<path d="M151.6,631.6 L155.8,631.6 L161.3,622.5 L168.0,607.2 L172.3,607.9 L178.1,589.0 L184.1,588.4 L189.3,600.2 L194.8,598.7 L199.7,582.3 L206.4,591.1 L213.1,589.0 L220.7,586.5 L226.8,596.3 L237.4,603.0 L243.5,592.0 L248.7,587.2 L254.2,598.1 L258.7,604.2 L264.2,618.5 L270.3,602.4 L274.9,617.0 L280.6,622.2 L289.2,623.1 L301.3,623.1 L306.8,618.5 L312.3,626.1 L318.1,616.4 L323.9,621.9 L330.3,617.9 L334.8,617.9 L340.9,624.0 L350.0,626.1 L356.1,621.6 L361.3,613.9 L366.8,623.7 L372.9,621.9 L376.8,623.1 L383.5,644.4 L388.1,656.6 L393.6,674.8 L398.8,672.7 L404.8,674.8 L410.3,666.3 L414.9,632.2 L420.1,665.7 L426.1,661.7 L430.7,646.8 L436.8,650.5 L442.0,663.6 L447.5,666.3 L452.6,689.4 L457.5,698.6 L462.7,680.0 L468.2,676.7 L473.9,687.6 L479.4,675.7 L485.5,673.9 L490.7,681.5 L496.2,675.7 L501.6,680.9 L506.5,663.9 L512.0,674.8 L522.0,676.3 L528.1,666.3 L534.2,660.5 L542.2,661.7 L548.9,662.6 L555.9,674.8 L562.0,680.9 L571.1,681.5 L576.3,671.8 L581.8,681.5 L587.8,678.5 L593.9,676.3 L597.6,677.9 L603.1,699.2 L608.5,696.7 L613.7,707.7 L619.2,682.4 L625.0,694.0 L630.5,679.4 L635.6,670.3 L641.1,677.3 L646.3,673.3 L652.4,677.3 L657.9,675.7 L663.3,671.8 L668.5,673.6 L673.1,670.9 L679.2,670.9 L683.7,661.1 L689.8,635.3 L695.9,633.7 L702.0,632.2 L706.6,630.1 L712.0,630.7 L716.3,634.3 L721.8,629.2 L727.9,632.2 L732.4,632.2 L737.9,622.5 L743.1,620.6 L749.8,625.5 L755.3,631.0 L759.8,629.2 L764.4,621.6 L769.0,620.0 L775.1,594.2 L780.2,592.6 L785.7,587.2 L791.8,591.1 L797.9,595.7 L802.5,590.2 L808.5,593.2 L814.6,592.0 L819.2,592.6 L823.8,594.2 L829.8,579.8 L834.4,583.5 L839.9,578.0 L845.1,568.3 L850.2,558.2 L856.3,576.8 L861.8,575.0 L867.9,568.9 L872.5,567.7 L878.6,569.8 L884.6,575.9 L889.2,583.5 L894.4,590.2 L899.9,587.2 L907.5,582.6 L913.6,583.5 L920.0,586.5 L925.7,599.3 L932.2,588.1 L938.3,583.5 L941.9,582.9 L948.0,563.7 L952.9,564.6 L958.1,571.3 L964.1,582.6 L968.7,581.4 L974.8,584.1 L979.4,583.5 L984.5,578.9 L990.6,587.5 L997.6,586.5 L1002.2,588.1 L1009.8,595.7 L1017.4,603.3 L1022.9,585.0 L1028.1,582.0 L1033.2,576.8 L1038.7,578.0 L1044.8,577.4 L1049.4,575.9 L1054.6,571.9 L1060.6,578.0 L1066.1,583.5 L1072.2,569.8 L1076.8,566.8 L1082.9,572.8 L1087.4,572.2 L1092.9,568.9 L1098.1,571.9 L1102.6,568.9 L1108.7,556.1 L1114.2,537.8 L1119.4,533.3 L1124.6,533.3 L1130.0,526.3 L1135.5,523.2 L1141.3,532.4 L1146.8,528.7 L1152.0,526.3 L1157.4,530.2 L1163.5,531.1 L1169.0,533.3 L1174.2,533.3 L1179.4,522.6 L1184.8,527.2 L1190.3,529.3 L1195.5,532.4 L1200.1,531.1 L1205.5,525.1 L1210.7,530.2 L1215.9,530.8 L1221.4,531.8 L1227.5,540.9 L1232.9,550.9 L1238.1,554.0 L1242.7,547.6 L1248.2,543.9 L1254.2,547.6 L1259.4,543.3 L1264.6,533.3 L1270.1,535.4 L1275.6,537.8 L1281.0,525.7 L1286.8,528.1 L1291.4,521.1 L1297.5,508.9 L1303.0,528.7 L1308.1,533.3 L1314.2,533.3 L1317.6,533.3 L1323.7,537.8 L1329.8,552.1 L1334.4,547.0 L1339.8,553.7 L1345.0,536.3 L1351.1,542.4 L1356.3,550.6 L1361.8,562.8 L1367.8,557.6 L1372.4,559.8 L1377.6,553.7 L1383.1,571.3 L1388.5,569.8 L1393.7,572.2 L1399.2,567.7 L1405.0,559.8 L1409.8,557.6 L1415.9,561.6 L1421.1,562.2 L1426.3,563.7 L1431.8,559.8 L1437.2,556.1 L1442.4,558.2 L1448.5,547.6 L1454.6,540.9 L1459.8,538.8 L1465.3,540.3 L1469.8,542.4 L1475.0,541.8 L1479.9,536.3 L1485.0,537.2 L1491.1,534.8 L1496.3,540.3 L1501.8,540.3 L1507.3,542.4 L1512.4,552.5 L1518.5,555.5 L1523.1,550.6 L1528.6,568.9 L1533.7,566.8 L1538.9,566.8 L1544.4,556.7 L1550.5,546.1 L1555.1,547.0 L1560.2,530.2 L1565.7,520.2 L1571.2,512.6 L1576.4,512.0 L1581.5,507.4 L1587.0,502.2 L1593.1,515.9 L1598.6,508.0 L1603.8,515.0 L1608.9,552.5 L1614.4,561.3 L1619.9,543.3 L1625.1,542.4 L1631.2,553.1 L1637.2,565.2 L1641.8,573.8 L1647.0,579.8 L1650.0,578.0 L1652.5,576.8 L1656.1,569.7 L1662.8,561.5 L1668.3,571.3 L1673.7,574.9 L1679.3,565.2 L1684.4,560.7 L1689.0,558.5 L1694.5,545.4 L1700.2,546.9 L1705.4,552.4 L1710.8,563.7 L1716.9,571.9 L1722.4,566.7 L1727.6,564.3 L1732.8,562.1 L1738.2,580.4 L1743.4,600.2 L1749.5,591.0 L1755.0,601.1" fill="none" stroke="#757575" stroke-width="2.4" stroke-linejoin="round"/>
<text x="137.0" y="115.5" font-size="23.5" text-anchor="start" fill="#3c4a64" textLength="401.6" lengthAdjust="spacingAndGlyphs">Trend Accumulation Score by Cohort</text>
<text x="147.3" y="205.8" font-size="17.0" text-anchor="end" fill="#3c4a64" textLength="40.8" lengthAdjust="spacingAndGlyphs">&gt;10k</text>
<text x="147.3" y="243.8" font-size="17.0" text-anchor="end" fill="#3c4a64" textLength="52.4" lengthAdjust="spacingAndGlyphs">1k-10k</text>
<text x="147.3" y="281.8" font-size="17.0" text-anchor="end" fill="#3c4a64" textLength="53.0" lengthAdjust="spacingAndGlyphs">100-1k</text>
<text x="147.3" y="319.8" font-size="17.0" text-anchor="end" fill="#3c4a64" textLength="53.9" lengthAdjust="spacingAndGlyphs">10-100</text>
<text x="147.3" y="357.8" font-size="17.0" text-anchor="end" fill="#3c4a64" textLength="34.7" lengthAdjust="spacingAndGlyphs">1-10</text>
<text x="147.3" y="395.8" font-size="17.0" text-anchor="end" fill="#3c4a64" textLength="21.9" lengthAdjust="spacingAndGlyphs">&lt;1</text>
<text x="146.9" y="528.1" font-size="17.0" text-anchor="end" fill="#3c4a64" textLength="37.4" lengthAdjust="spacingAndGlyphs">120k</text>
<text x="146.9" y="570.8" font-size="17.0" text-anchor="end" fill="#3c4a64" textLength="37.4" lengthAdjust="spacingAndGlyphs">110k</text>
<text x="146.9" y="613.5" font-size="17.0" text-anchor="end" fill="#3c4a64" textLength="37.4" lengthAdjust="spacingAndGlyphs">100k</text>
<text x="146.9" y="656.2" font-size="17.0" text-anchor="end" fill="#3c4a64" textLength="27.6" lengthAdjust="spacingAndGlyphs">90k</text>
<text x="146.9" y="698.7" font-size="17.0" text-anchor="end" fill="#3c4a64" textLength="27.6" lengthAdjust="spacingAndGlyphs">80k</text>
<text x="258.7" y="737.3" font-size="17.0" text-anchor="middle" fill="#3c4a64" textLength="71.0" lengthAdjust="spacingAndGlyphs">Feb 2025</text>
<text x="409.4" y="737.3" font-size="17.0" text-anchor="middle" fill="#3c4a64" textLength="72.0" lengthAdjust="spacingAndGlyphs">Mar 2025</text>
<text x="576.2" y="737.3" font-size="17.0" text-anchor="middle" fill="#3c4a64" textLength="70.4" lengthAdjust="spacingAndGlyphs">Apr 2025</text>
<text x="737.6" y="737.3" font-size="17.0" text-anchor="middle" fill="#3c4a64" textLength="75.9" lengthAdjust="spacingAndGlyphs">May 2025</text>
<text x="904.4" y="737.3" font-size="17.0" text-anchor="middle" fill="#3c4a64" textLength="69.4" lengthAdjust="spacingAndGlyphs">Jun 2025</text>
<text x="1065.8" y="737.3" font-size="17.0" text-anchor="middle" fill="#3c4a64" textLength="62.9" lengthAdjust="spacingAndGlyphs">Jul 2025</text>
<text x="1232.6" y="737.3" font-size="17.0" text-anchor="middle" fill="#3c4a64" textLength="74.3" lengthAdjust="spacingAndGlyphs">Aug 2025</text>
<text x="1399.4" y="737.3" font-size="17.0" text-anchor="middle" fill="#3c4a64" textLength="73.0" lengthAdjust="spacingAndGlyphs">Sep 2025</text>
<text x="1560.8" y="737.3" font-size="17.0" text-anchor="middle" fill="#3c4a64" textLength="71.0" lengthAdjust="spacingAndGlyphs">Oct 2025</text>
<text x="1727.6" y="737.3" font-size="17.0" text-anchor="middle" fill="#3c4a64" textLength="74.5" lengthAdjust="spacingAndGlyphs">Nov 2025</text>
<text x="1846.0" y="199.3" font-size="16.5" text-anchor="start" fill="#3c4a64">1</text>
<text x="1846.0" y="301.9" font-size="16.5" text-anchor="start" fill="#3c4a64">0.8</text>
<text x="1846.0" y="404.5" font-size="16.5" text-anchor="start" fill="#3c4a64">0.6</text>
<text x="1846.0" y="507.1" font-size="16.5" text-anchor="start" fill="#3c4a64">0.4</text>
<text x="1846.0" y="609.7" font-size="16.5" text-anchor="start" fill="#3c4a64">0.2</text>
<text x="1846.0" y="712.3" font-size="16.5" text-anchor="start" fill="#3c4a64">0</text>
<text x="152.5" y="780.0" font-size="20.5" text-anchor="start" fill="#a4acb9" textLength="309.0" lengthAdjust="spacingAndGlyphs">Based on data from 2025-11-07</text>
<text x="1753.0" y="780.0" font-size="20.5" text-anchor="end" fill="#a4acb9" textLength="381.5" lengthAdjust="spacingAndGlyphs">© 2025 Glassnode. All Rights Reserved</text>
<text transform="translate(67,295) rotate(-90)" font-size="20" text-anchor="middle" fill="#3c4a64">Cohorts by BTC</text>
<text transform="translate(83,605) rotate(-90)" font-size="20" text-anchor="middle" fill="#3c4a64">Price</text>
</svg>
</body></html>
